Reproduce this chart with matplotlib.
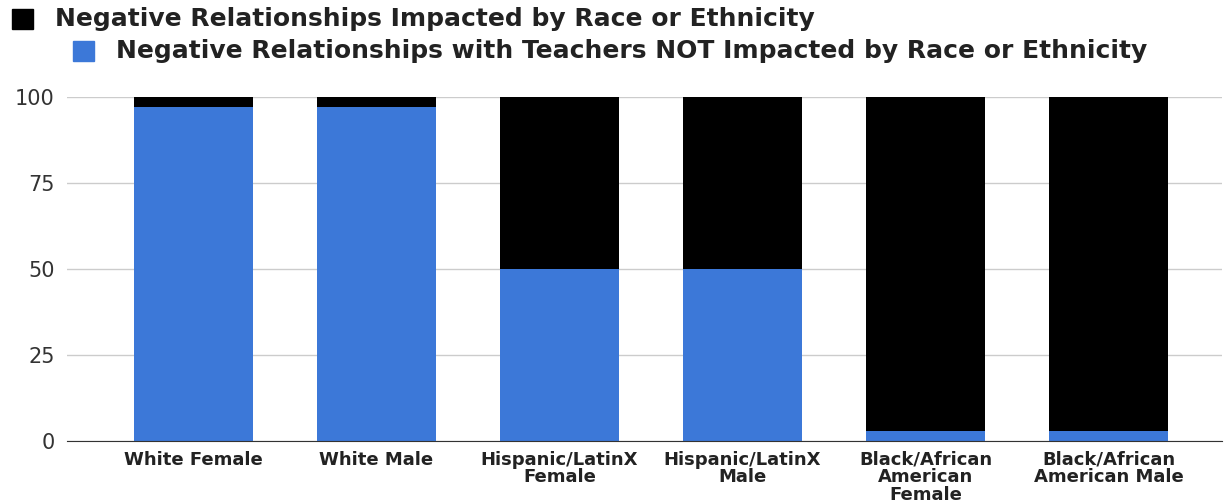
import matplotlib.pyplot as plt
from matplotlib.patches import Rectangle

plt.rcParams['font.family'] = ['DejaVu Sans']

categories = ['White Female', 'White Male', 'Hispanic/LatinX\nFemale', 'Hispanic/LatinX\nMale',
              'Black/African\nAmerican\nFemale', 'Black/African\nAmerican Male']
not_impacted = [97, 97, 50, 50, 3, 3]
impacted = [3, 3, 50, 50, 97, 97]
series_names = ['Negative Relationships Impacted by Race or Ethnicity',
                'Negative Relationships with Teachers NOT Impacted by Race or Ethnicity']
blue = '#3c78d8'
black = '#000000'

fig = plt.figure(figsize=(12.25, 5.04), dpi=100)
ax = fig.add_axes([0.0547, 0.125, 0.9429, 0.6825])

x = range(len(categories))
ax.bar(x, not_impacted, width=0.65, color=blue, zorder=3)
ax.bar(x, impacted, width=0.65, bottom=not_impacted, color=black, zorder=3)

ax.set_xlim(-0.69, 5.62)
ax.set_ylim(0, 100)
ax.set_yticks([0, 25, 50, 75, 100])
ax.grid(axis='y', color='#cccccc', linewidth=1, zorder=0)
ax.set_xticks(list(x))
ax.set_xticklabels(categories, fontsize=13, fontweight='bold', linespacing=0.97)
ax.tick_params(axis='both', length=0)
ax.tick_params(axis='y', labelsize=15, colors='#333333', pad=9)
ax.tick_params(axis='x', pad=7, colors='#222222')
for s in ['top', 'right', 'left']:
    ax.spines[s].set_visible(False)
ax.spines['bottom'].set_color('#333333')
ax.spines['bottom'].set_zorder(4)

# legend drawn at the top, two rows
W, H = fig.get_size_inches() * fig.dpi
rows = [(12, 19, black, series_names[0]), (73, 51, blue, series_names[1])]
for px, py, col, name in rows:
    fig.patches.append(Rectangle((px / W, 1 - (py + 10) / H), 21 / W, 20 / H,
                                 transform=fig.transFigure, color=col))
    fig.text((px + 43) / W, 1 - py / H, name, fontsize=18, fontweight='bold',
             va='center', ha='left', color='#222222')

fig.savefig('out.png', dpi=100)
